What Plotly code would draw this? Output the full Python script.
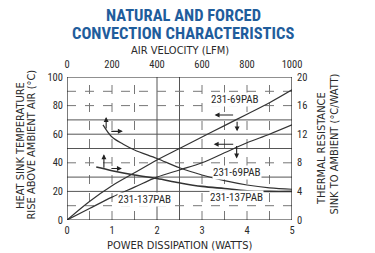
import plotly.graph_objects as go

# ---- data ----
power_w = [0, 0.5, 1, 1.5, 2, 2.5, 3, 3.5, 4, 4.5, 5]
temp_69pab = [0, 13, 24, 33, 42, 50, 58, 66, 74, 82, 91]
temp_137pab = [0, 8, 16, 23, 30, 35, 40, 47, 54, 60, 66.5]

lfm_69pab = [160, 200, 250, 300, 400, 500, 600, 700, 800, 900, 1000]
res_69pab = [13.3, 11.6, 10.6, 9.8, 8.6, 7.3, 6.3, 5.5, 4.9, 4.5, 4.3]
lfm_137pab = [130, 200, 300, 400, 500, 600, 700, 800, 900, 1000]
res_137pab = [7.4, 6.9, 6.3, 5.8, 5.2, 4.7, 4.4, 4.1, 4.0, 4.0]

power_ticks = [0, 1, 2, 3, 4, 5]
temp_ticks = [0, 20, 40, 60, 80, 100]
lfm_ticks = [0, 200, 400, 600, 800, 1000]
res_ticks = [0, 4, 8, 12, 16, 20]

grid_power_solid = [2, 2.5]
grid_power_dash = [0.5, 1, 1.5, 3, 3.5, 4, 4.5]
grid_temp_solid = [20, 30, 50, 60, 70]
grid_temp_dash = [10, 40, 80, 90]

FONT = "Liberation Sans Narrow, Roboto Condensed, DejaVu Sans Condensed, Arial Narrow, sans-serif"
LFONT = "DejaVu Sans Condensed, Liberation Sans, sans-serif"
INK = "#2a2a2a"
LINE = "#333333"

fig = go.Figure()
fig.add_trace(go.Scatter(x=power_w, y=temp_69pab, mode="lines", line=dict(color=LINE, width=1.2, shape="spline"),
                         xaxis="x", yaxis="y", showlegend=False, hoverinfo="skip"))
fig.add_trace(go.Scatter(x=power_w, y=temp_137pab, mode="lines", line=dict(color=LINE, width=1.2, shape="spline"),
                         xaxis="x", yaxis="y", showlegend=False, hoverinfo="skip"))
fig.add_trace(go.Scatter(x=lfm_69pab, y=res_69pab, mode="lines", line=dict(color=LINE, width=1.2, shape="spline"),
                         xaxis="x2", yaxis="y2", showlegend=False, hoverinfo="skip"))
fig.add_trace(go.Scatter(x=lfm_137pab, y=res_137pab, mode="lines", line=dict(color=LINE, width=1.6, shape="spline"),
                         xaxis="x2", yaxis="y2", showlegend=False, hoverinfo="skip"))

shapes = []
for v in grid_power_solid:
    shapes.append(dict(type="line", xref="x", yref="y", x0=v, x1=v, y0=0, y1=100,
                       line=dict(color="#555", width=1), layer="below"))
for v in grid_power_dash:
    shapes.append(dict(type="line", xref="x", yref="y", x0=v, x1=v, y0=0, y1=100,
                       line=dict(color="#777", width=1, dash="dash"), layer="below"))
for v in grid_temp_solid:
    shapes.append(dict(type="line", xref="x", yref="y", x0=0, x1=5, y0=v, y1=v,
                       line=dict(color="#555", width=1), layer="below"))
for v in grid_temp_dash:
    shapes.append(dict(type="line", xref="x", yref="y", x0=0, x1=5, y0=v, y1=v,
                       line=dict(color="#777", width=1, dash="dash"), layer="below"))
shapes.append(dict(type="rect", xref="x", yref="y", x0=0, x1=5, y0=0, y1=100,
                   line=dict(color="#222", width=1.2)))

annotations = []
def arrow(x, y, dx, dy):
    # arrow pointing at (x, y), tail offset by (dx, dy) pixels
    annotations.append(dict(x=x, y=y, ax=dx, ay=dy, xref="x", yref="y",
                            text="", showarrow=True, arrowhead=2, arrowsize=0.9, arrowwidth=1.1,
                            arrowcolor="#222"))
arrow(0.87, 72, 0, 13)
arrow(1.24, 62, -13, 0)
arrow(0.82, 46, 0, 15)
arrow(1.22, 36, -12, 0)
arrow(3.28, 73.4, 20, 0)
arrow(3.78, 62, 0, -11)
arrow(3.26, 53, 21, 0)
arrow(3.77, 43, 0, -14)

lab_font = dict(family=FONT, size=11, color=INK)
for (lx, ly, t) in [(3.73, 84.6, "231-69PAB"), (3.77, 33, "231-69PAB"),
                    (3.77, 15.6, "231-137PAB"), (1.72, 14, "231-137PAB")]:
    annotations.append(dict(x=lx, y=ly, xref="x", yref="y", text=t, showarrow=False,
                            font=lab_font, bgcolor="white", borderpad=0))

annotations += [
    dict(x=183, y=15, xref="paper", yref="paper", text="<b>NATURAL AND FORCED</b>", showarrow=False,
         font=dict(family=FONT, size=16.5, color="#1f5d9c")),
    dict(x=183, y=33, xref="paper", yref="paper", text="<b>CONVECTION CHARACTERISTICS</b>", showarrow=False,
         font=dict(family=FONT, size=16.5, color="#1f5d9c")),
    dict(x=180, y=50, xref="paper", yref="paper", text="AIR VELOCITY (LFM)", showarrow=False,
         font=dict(family=LFONT, size=11, color=INK)),
    dict(x=179, y=245, xref="paper", yref="paper", text="POWER DISSIPATION (WATTS)", showarrow=False,
         font=dict(family=LFONT, size=11, color=INK)),
    dict(x=20, y=146, xref="paper", yref="paper", text="HEAT SINK TEMPERATURE", showarrow=False, textangle=-90,
         font=dict(family=LFONT, size=11, color=INK)),
    dict(x=30.5, y=145, xref="paper", yref="paper", text="RISE ABOVE AMBIENT AIR (°C)", showarrow=False, textangle=-90,
         font=dict(family=LFONT, size=11, color=INK)),
    dict(x=321, y=149, xref="paper", yref="paper", text="THERMAL RESISTANCE", showarrow=False, textangle=-90,
         font=dict(family=LFONT, size=11, color=INK)),
    dict(x=333.5, y=144, xref="paper", yref="paper", text="SINK TO AMBIENT (°C/WATT)", showarrow=False, textangle=-90,
         font=dict(family=LFONT, size=11, color=INK)),
]

W, H = 375, 253
L, R, T, B = 67, 83, 77, 33
pw, ph = W - L - R, H - T - B
for a in annotations:
    if a["xref"] == "paper":
        a["x"] = (a["x"] - L) / pw
        a["y"] = 1 - (a["y"] - T) / ph
        a["xanchor"] = "center"
        a["yanchor"] = "middle"

tick_font = dict(family=FONT, size=10.5, color=INK)
fig.update_layout(
    width=W, height=H, margin=dict(l=L, r=R, t=T, b=B),
    paper_bgcolor="white", plot_bgcolor="white", hovermode=False,
    xaxis=dict(range=[0, 5], tickvals=power_ticks, showgrid=False, zeroline=False, showline=False,
               ticks="", tickfont=tick_font, ticklabelstandoff=2),
    xaxis2=dict(range=[0, 1000], tickvals=lfm_ticks, overlaying="x", side="top", showgrid=False,
                zeroline=False, showline=False, ticks="", tickfont=tick_font, ticklabelstandoff=6),
    yaxis=dict(range=[0, 100], tickvals=temp_ticks, showgrid=False, zeroline=False, showline=False,
               ticks="", tickfont=tick_font, ticklabelstandoff=3),
    yaxis2=dict(range=[0, 20], tickvals=res_ticks, overlaying="y", side="right", showgrid=False,
                zeroline=False, showline=False, ticks="", tickfont=tick_font, ticklabelstandoff=4),
    shapes=shapes, annotations=annotations, showlegend=False,
)
fig.write_html("out.html", config={"displayModeBar": False, "staticPlot": True},
               post_script="document.body.style.margin='0';document.body.style.overflow='hidden';")
